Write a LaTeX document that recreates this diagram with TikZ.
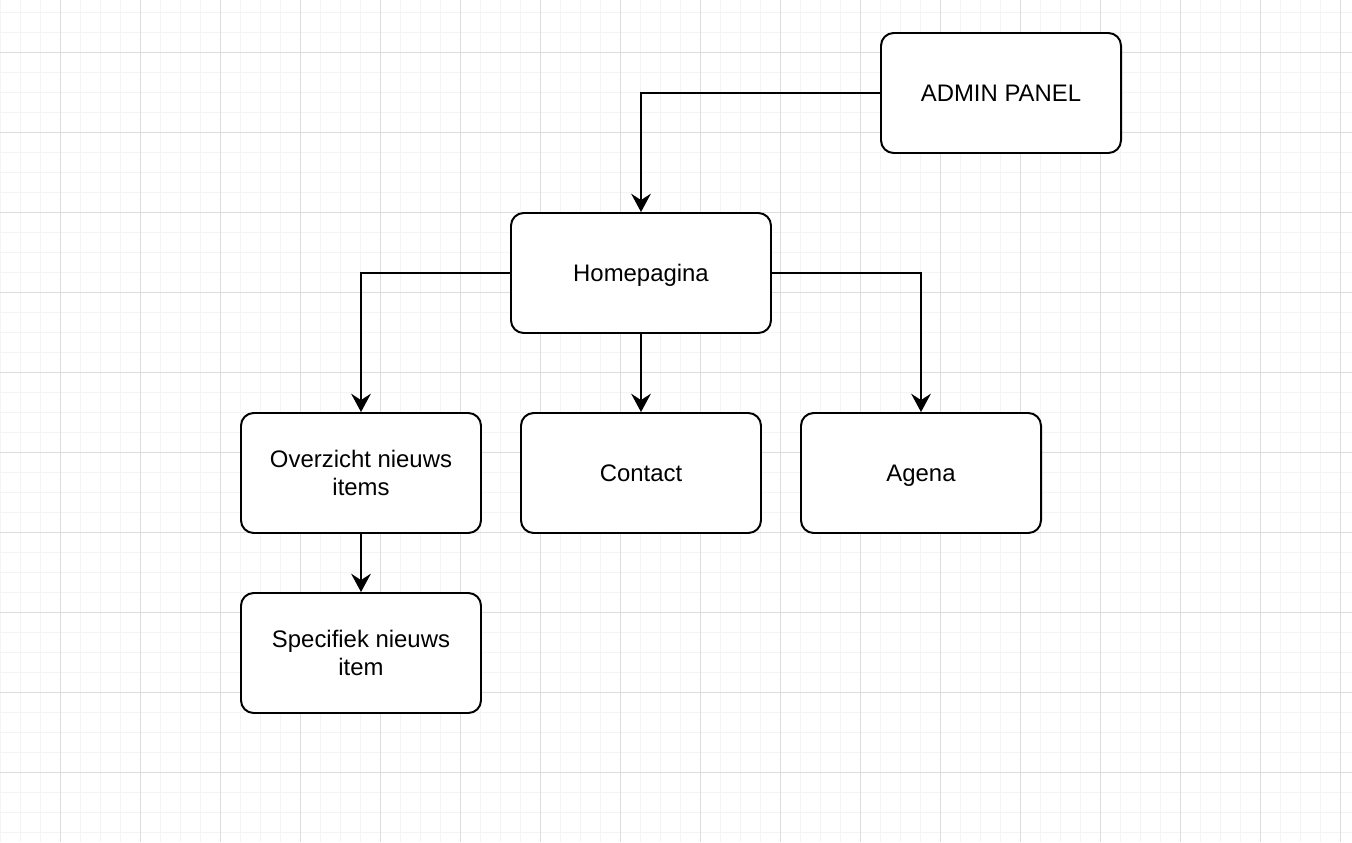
\documentclass[tikz,border=0pt]{standalone}
\usepackage{fontspec}
\setmainfont{Liberation Sans}
\usetikzlibrary{arrows.meta}
\definecolor{minorgrid}{HTML}{F4F4F4}
\definecolor{majorgrid}{HTML}{DDDDDD}
\begin{document}
\begin{tikzpicture}[x=0.025cm, y=-0.025cm,
        page/.style={draw, line width=1.4pt, rounded corners=9pt, fill=white,
            align=center, font=\fontsize{17}{20}\selectfont,
            minimum width=240*0.025cm, minimum height=120*0.025cm},
        oneline/.style={text height=13pt, text depth=0.8pt},
        link/.style={line width=1.4pt, -{Stealth[length=13pt, width=14pt, inset=4.5pt]}}]
    \useasboundingbox (0, 0) rectangle (1352, 842);
    % grid
    \foreach \x in {0, 20, ..., 1340} \draw [minorgrid, line width=0.7pt] (\x, 0) -- (\x, 842);
    \foreach \y in {12, 32, ..., 832} \draw [minorgrid, line width=0.7pt] (0, \y) -- (1352, \y);
    \foreach \x in {60, 140, ..., 1340} \draw [majorgrid, line width=0.7pt] (\x, 0) -- (\x, 842);
    \foreach \y in {52, 132, ..., 812} \draw [majorgrid, line width=0.7pt] (0, \y) -- (1352, \y);
    % pages
    \node [page, oneline] (admin) at (1001, 93) {ADMIN PANEL};
    \node [page, oneline, minimum width=260*0.025cm] (home) at (641, 273) {Homepagina};
    \node [page] (news) at (361, 473) {Overzicht nieuws\\items};
    \node [page, oneline] (contact) at (641, 473) {Contact};
    \node [page, oneline] (agenda) at (921, 473) {Agena};
    \node [page] (item) at (361, 653) {Specifiek nieuws\\item};
    % links
    \draw [link] (admin.west) -| (home.north);
    \draw [link] (home.west) -| (news.north);
    \draw [link] (home.east) -| (agenda.north);
    \draw [link] (home.south) -- (contact.north);
    \draw [link] (news.south) -- (item.north);
\end{tikzpicture}
\end{document}
